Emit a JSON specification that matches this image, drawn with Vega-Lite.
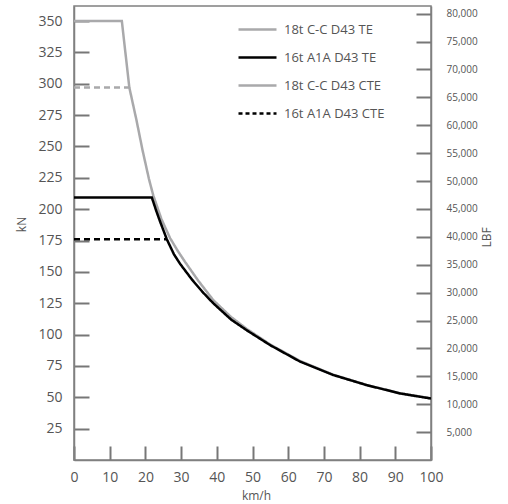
{
  "$schema": "https://vega.github.io/schema/vega-lite/v6.json",
  "width": 357,
  "height": 454,
  "autosize": "none",
  "padding": {"left": 74, "top": 6, "right": 77, "bottom": 44},
  "background": "white",
  "config": {
    "font": "Open Sans",
    "view": {"stroke": "#808080", "strokeWidth": 1.5},
    "axis": {
      "domainColor": "#808080", "domainWidth": 1.5,
      "tickColor": "#777777", "tickWidth": 2, "ticks": true,
      "labelColor": "#555", "titleColor": "#555",
      "labelFont": "Open Sans", "titleFont": "Open Sans",
      "titleFontWeight": "normal", "grid": false, "labelFlush": false
    }
  },
  "layer": [
    {
      "data": {"values": [
        {"series": "18t C-C D43 TE", "kind": "TE", "v": 0, "kn": 350},
        {"series": "18t C-C D43 TE", "kind": "TE", "v": 13.4, "kn": 350},
        {"series": "18t C-C D43 TE", "kind": "TE", "v": 15.5, "kn": 297},
        {"series": "18t C-C D43 TE", "kind": "TE", "v": 17.5, "kn": 271},
        {"series": "18t C-C D43 TE", "kind": "TE", "v": 19.2, "kn": 247},
        {"series": "18t C-C D43 TE", "kind": "TE", "v": 21, "kn": 224},
        {"series": "18t C-C D43 TE", "kind": "TE", "v": 22.2, "kn": 211},
        {"series": "18t C-C D43 TE", "kind": "TE", "v": 24.5, "kn": 192},
        {"series": "18t C-C D43 TE", "kind": "TE", "v": 26.9, "kn": 177},
        {"series": "18t C-C D43 TE", "kind": "TE", "v": 29, "kn": 167},
        {"series": "18t C-C D43 TE", "kind": "TE", "v": 31.1, "kn": 158},
        {"series": "18t C-C D43 TE", "kind": "TE", "v": 34.8, "kn": 143},
        {"series": "18t C-C D43 TE", "kind": "TE", "v": 39, "kn": 127.5},
        {"series": "18t C-C D43 TE", "kind": "TE", "v": 44, "kn": 114},
        {"series": "18t C-C D43 TE", "kind": "TE", "v": 48.4, "kn": 104.5},
        {"series": "18t C-C D43 TE", "kind": "TE", "v": 55, "kn": 92},
        {"series": "18t C-C D43 TE", "kind": "TE", "v": 63.3, "kn": 79},
        {"series": "18t C-C D43 TE", "kind": "TE", "v": 72.6, "kn": 68},
        {"series": "18t C-C D43 TE", "kind": "TE", "v": 82, "kn": 59.8},
        {"series": "18t C-C D43 TE", "kind": "TE", "v": 91.3, "kn": 53.2},
        {"series": "18t C-C D43 TE", "kind": "TE", "v": 100, "kn": 49.2},
        {"series": "18t C-C D43 CTE", "kind": "CTE", "v": 0, "kn": 297},
        {"series": "18t C-C D43 CTE", "kind": "CTE", "v": 15.5, "kn": 297},
        {"series": "16t A1A D43 TE", "kind": "TE", "v": 0, "kn": 209.3},
        {"series": "16t A1A D43 TE", "kind": "TE", "v": 21.8, "kn": 209.3},
        {"series": "16t A1A D43 TE", "kind": "TE", "v": 23, "kn": 199},
        {"series": "16t A1A D43 TE", "kind": "TE", "v": 24, "kn": 191},
        {"series": "16t A1A D43 TE", "kind": "TE", "v": 26, "kn": 176},
        {"series": "16t A1A D43 TE", "kind": "TE", "v": 28, "kn": 164},
        {"series": "16t A1A D43 TE", "kind": "TE", "v": 29.7, "kn": 156.5},
        {"series": "16t A1A D43 TE", "kind": "TE", "v": 33, "kn": 144},
        {"series": "16t A1A D43 TE", "kind": "TE", "v": 36, "kn": 134},
        {"series": "16t A1A D43 TE", "kind": "TE", "v": 39, "kn": 125},
        {"series": "16t A1A D43 TE", "kind": "TE", "v": 44, "kn": 112},
        {"series": "16t A1A D43 TE", "kind": "TE", "v": 48.4, "kn": 103.4},
        {"series": "16t A1A D43 TE", "kind": "TE", "v": 55, "kn": 91.5},
        {"series": "16t A1A D43 TE", "kind": "TE", "v": 63.3, "kn": 78.5},
        {"series": "16t A1A D43 TE", "kind": "TE", "v": 72.6, "kn": 67.8},
        {"series": "16t A1A D43 TE", "kind": "TE", "v": 82, "kn": 59.7},
        {"series": "16t A1A D43 TE", "kind": "TE", "v": 91.3, "kn": 53.1},
        {"series": "16t A1A D43 TE", "kind": "TE", "v": 100, "kn": 49},
        {"series": "16t A1A D43 CTE", "kind": "CTE", "v": 0, "kn": 176},
        {"series": "16t A1A D43 CTE", "kind": "CTE", "v": 26, "kn": 176}
      ]},
      "mark": {"type": "line", "strokeWidth": 2.5, "clip": true},
      "encoding": {
        "x": {
          "field": "v", "type": "quantitative",
          "scale": {"domain": [0, 100], "nice": false, "zero": false},
          "axis": {
            "title": "km/h", "values": [0, 10, 20, 30, 40, 50, 60, 70, 80, 90, 100],
            "tickSize": -14, "labelPadding": 24, "labelFontSize": 14,
            "titleFontSize": 12, "titleX": 182, "titleY": 39, "titleBaseline": "alphabetic"
          }
        },
        "y": {
          "field": "kn", "type": "quantitative",
          "scale": {"domain": [0, 362], "nice": false},
          "axis": {
            "title": "kN", "orient": "left",
            "values": [25, 50, 75, 100, 125, 150, 175, 200, 225, 250, 275, 300, 325, 350],
            "tickSize": -15, "labelPadding": 27, "labelFontSize": 14,
            "titleFontSize": 12, "titleX": -46, "titleY": 218
          }
        },
        "color": {
          "field": "series", "type": "nominal",
          "scale": {
            "domain": ["18t C-C D43 TE", "16t A1A D43 TE", "18t C-C D43 CTE", "16t A1A D43 CTE"],
            "range": ["#a9a9ab", "#000000", "#a9a9ab", "#000000"]
          },
          "legend": {
            "title": null, "orient": "none", "legendX": 163, "legendY": 3,
            "symbolType": "stroke", "symbolSize": 1444, "symbolStrokeWidth": 2.5,
            "labelFontSize": 13, "labelColor": "#555", "labelFont": "Open Sans",
            "labelOffset": 6, "rowPadding": -16.5,
            "encode": {
              "symbols": {
                "update": {
                  "strokeDash": {"signal": "datum.value === '16t A1A D43 CTE' ? [4, 3] : [1, 0]"}
                }
              }
            }
          }
        },
        "strokeDash": {
          "field": "kind", "type": "nominal",
          "scale": {"domain": ["TE", "CTE"], "range": [[1, 0], [6, 4]]},
          "legend": null
        },
        "detail": {"field": "series"}
      }
    },
    {
      "data": {"values": [{"lbf": 0}]},
      "mark": {"type": "point", "opacity": 0},
      "encoding": {
        "y": {
          "field": "lbf", "type": "quantitative",
          "scale": {"domain": [0, 81380], "nice": false},
          "axis": {
            "title": "LBF", "orient": "right", "format": ",.0f",
            "values": [5000, 10000, 15000, 20000, 25000, 30000, 35000, 40000, 45000, 50000, 55000, 60000, 65000, 70000, 75000, 80000],
            "tickSize": -15, "labelPadding": 30, "labelFontSize": 10,
            "titleFontSize": 12, "titleAngle": 270, "titleX": 62, "titleY": 231
          }
        }
      }
    }
  ],
  "resolve": {"scale": {"y": "independent"}}
}
